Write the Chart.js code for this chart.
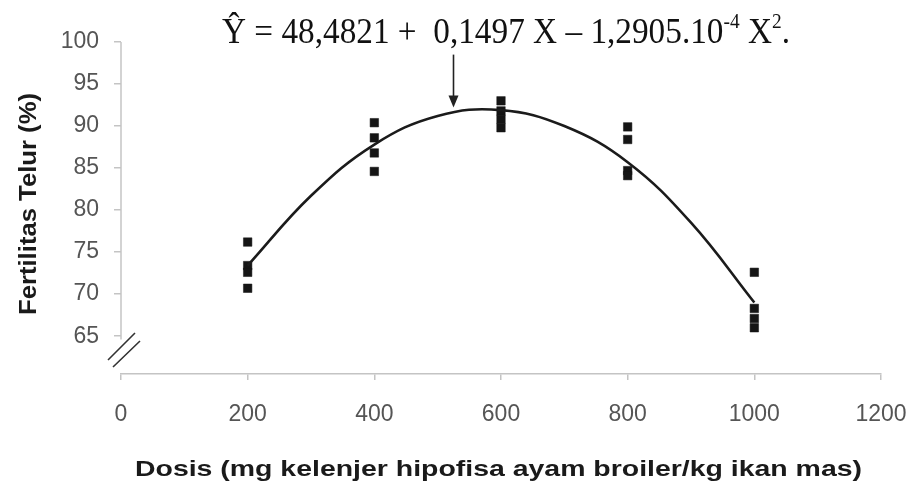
<!DOCTYPE html>
<html>
<head>
<meta charset="utf-8">
<script src="https://cdn.jsdelivr.net/npm/chart.js@4.4.1/dist/chart.umd.min.js"></script>
<style>
  html, body { margin: 0; padding: 0; background: #fff; overflow: hidden; }
  #wrap { width: 911px; height: 483px; }
</style>
</head>
<body>
<div id="wrap"><canvas id="myChart"></canvas></div>
<script>
'use strict'

// data
var doses = [200, 400, 600, 800, 1000];
var obs200 = [76.2, 73.4, 72.6, 70.7];
var obs400 = [90.4, 88.6, 86.8, 84.6];
var obs600 = [93.0, 91.8, 90.8, 89.8];
var obs800 = [89.9, 88.4, 84.7, 84.1];
var obs1000 = [72.6, 68.3, 67.1, 66.0];

// regression curve as drawn
var curveX = [200, 300, 400, 500, 600, 700, 800, 900, 1000];
var curveY = [73.4, 81.7, 87.8, 91.2, 91.9, 90.0, 85.7, 78.5, 69.0];

var xTicks = [0, 200, 400, 600, 800, 1000, 1200];
var yTicks = [65, 70, 75, 80, 85, 90, 95, 100];

var xTitle = "Dosis (mg kelenjer hipofisa ayam broiler/kg ikan mas)";
var yTitle = "Fertilitas Telur (%)";

// annotation arrow (data units)
var arrowX = 525;
var arrowTop = 98.5;
var arrowTip = 92.2;

window.onload = function () {
    var allObs = [obs200, obs400, obs600, obs800, obs1000];
    var points = [];
    for (var i = 0; i < doses.length; i++) {
        for (var j = 0; j < allObs[i].length; j++) {
            points.push({ x: doses[i], y: allObs[i][j] });
        }
    }
    var linePoints = [];
    for (var k = 0; k < curveX.length; k++) {
        linePoints.push({ x: curveX[k], y: curveY[k] });
    }

    // text stretched to a given width
    function fitText(ctx, text, x, y, width) {
        var w = ctx.measureText(text).width;
        ctx.save();
        ctx.translate(x, y);
        ctx.scale(width / w, 1);
        ctx.fillText(text, 0, 0);
        ctx.restore();
    }

    var extras = {
        id: 'extras',
        afterDraw: function (chart) {
            var ctx = chart.ctx;
            var xs = chart.scales.x, ys = chart.scales.y;
            var left = chart.chartArea.left;

            // y axis line, stops at the break
            ctx.save();
            ctx.strokeStyle = '#c4c4c4';
            ctx.lineWidth = 1.5;
            ctx.beginPath();
            ctx.moveTo(left, ys.getPixelForValue(100));
            ctx.lineTo(left, ys.getPixelForValue(64.6));
            ctx.stroke();

            // break marks
            ctx.strokeStyle = '#333';
            ctx.lineWidth = 1.6;
            ctx.beginPath();
            ctx.moveTo(left - 13, 360); ctx.lineTo(left + 14, 333);
            ctx.moveTo(left - 8, 367); ctx.lineTo(left + 19, 341);
            ctx.stroke();

            // arrow
            var ax = xs.getPixelForValue(arrowX);
            var top = ys.getPixelForValue(arrowTop);
            var tip = ys.getPixelForValue(arrowTip);
            ctx.strokeStyle = '#222';
            ctx.fillStyle = '#222';
            ctx.lineWidth = 1.6;
            ctx.beginPath();
            ctx.moveTo(ax, top); ctx.lineTo(ax, tip - 10);
            ctx.stroke();
            ctx.beginPath();
            ctx.moveTo(ax - 5, tip - 12); ctx.lineTo(ax + 5, tip - 12); ctx.lineTo(ax, tip);
            ctx.closePath();
            ctx.fill();

            // equation
            ctx.fillStyle = '#111';
            ctx.textBaseline = 'alphabetic';
            ctx.textAlign = 'left';
            var big = '36px "Liberation Serif", "Times New Roman", serif';
            var small = '21px "Liberation Serif", "Times New Roman", serif';
            var parts = [
                ["\u0176 = 48,4821 +  0,1497 X \u2013 1,2905.10", big, 0],
                ["-4", small, -15],
                [" X", big, 0],
                ["2", small, -15],
                [".", big, 0]
            ];
            var total = 0;
            parts.forEach(function (p) { ctx.font = p[1]; total += ctx.measureText(p[0]).width; });
            var sx = 568 / total;
            ctx.save();
            ctx.translate(222, 43);
            ctx.scale(sx, 1);
            var cx = 0;
            parts.forEach(function (p) {
                ctx.font = p[1];
                ctx.fillText(p[0], cx, p[2]);
                cx += ctx.measureText(p[0]).width;
            });
            ctx.restore();

            // axis titles
            ctx.fillStyle = '#1a1a1a';
            ctx.font = 'bold 22px "Liberation Sans", Arial, sans-serif';
            fitText(ctx, xTitle, 135, 476, 727);

            ctx.save();
            ctx.translate(36, 315);
            ctx.rotate(-Math.PI / 2);
            ctx.font = 'bold 24px "Liberation Sans", Arial, sans-serif';
            fitText(ctx, yTitle, 0, 0, 222);
            ctx.restore();
            ctx.restore();
        }
    };

    var ctx = document.getElementById('myChart');
    new Chart(ctx, {
        type: 'scatter',
        data: {
            datasets: [
                {
                    type: 'line',
                    label: 'fit',
                    data: linePoints,
                    borderColor: '#1b1b1b',
                    borderWidth: 2.6,
                    pointRadius: 0,
                    tension: 0.4,
                    fill: false,
                    order: 1
                },
                {
                    label: 'obs',
                    data: points,
                    pointStyle: 'rect',
                    pointRadius: 6,
                    pointBorderWidth: 0.5,
                    backgroundColor: '#151515',
                    borderColor: '#151515',
                    order: 2
                }
            ]
        },
        options: {
            responsive: true,
            maintainAspectRatio: false,
            animation: false,
            events: [],
            layout: { padding: { left: 0, right: 30, top: 42, bottom: 0 } },
            plugins: {
                legend: { display: false },
                tooltip: { enabled: false }
            },
            scales: {
                x: {
                    type: 'linear',
                    min: 0,
                    max: 1200,
                    afterBuildTicks: function (axis) {
                        axis.ticks = xTicks.map(function (v) { return { value: v }; });
                    },
                    afterFit: function (scale) {
                        scale.height = 109;
                        scale.paddingLeft = 0;
                        scale.paddingRight = 0;
                    },
                    grid: { drawOnChartArea: false, color: '#c4c4c4', tickLength: 6, lineWidth: 1.5 },
                    border: { display: true, color: '#c4c4c4', width: 1.5 },
                    ticks: {
                        color: '#555',
                        padding: 21,
                        maxRotation: 0,
                        font: { family: '"Liberation Sans", Arial, sans-serif', size: 23 },
                        callback: function (value) { return String(value); }
                    }
                },
                y: {
                    type: 'linear',
                    min: 60.5,
                    max: 100,
                    afterBuildTicks: function (axis) {
                        axis.ticks = yTicks.map(function (v) { return { value: v }; });
                    },
                    afterFit: function (scale) { scale.width = 121; },
                    grid: { drawOnChartArea: false, color: '#c4c4c4', tickLength: 7, lineWidth: 1.5 },
                    border: { display: false },
                    ticks: {
                        color: '#555',
                        padding: 15,
                        font: { family: '"Liberation Sans", Arial, sans-serif', size: 23 }
                    }
                }
            }
        },
        plugins: [extras]
    });
};
</script>
</body>
</html>
